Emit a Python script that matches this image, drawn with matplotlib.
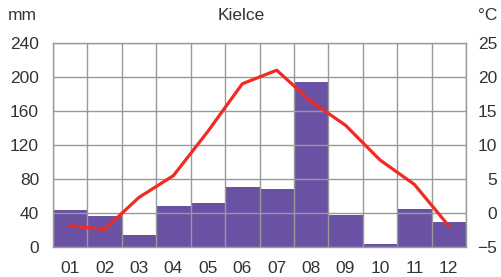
import matplotlib
matplotlib.use("Agg")
import matplotlib.pyplot as plt
import numpy as np

months = ["01", "02", "03", "04", "05", "06", "07", "08", "09", "10", "11", "12"]
precip_mm = [43, 37, 14, 48, 52, 71, 68, 194, 38, 3.5, 45, 30]
temp_c = [-1.9, -2.4, 2.3, 5.5, 12.0, 19.0, 21.0, 16.4, 12.9, 7.8, 4.2, -1.9]
left_ticks = [0, 40, 80, 120, 160, 200, 240]
right_ticks = [-5, 0, 5, 10, 15, 20, 25]
title = "Kielce"

plt.rcParams['font.family'] = ['Liberation Sans', 'DejaVu Sans']
text_color = "#333333"
grid_color = "#999999"

fig = plt.figure(figsize=(5.01, 2.77), dpi=100)
W, H = 501, 277
ax = fig.add_axes([53 / W, (H - 247) / H, (466 - 53) / W, (247 - 43) / H])

x = np.arange(len(months))
ax.bar(x, precip_mm, width=1.0, color="#6a51a3", edgecolor="none", zorder=1)
ax.set_xlim(-0.5, len(months) - 0.5)
ax.set_ylim(0, 240)
ax.set_yticks(left_ticks)
ax.set_xticks(x)
ax.set_xticklabels(months)
for b in np.arange(-0.5, len(months), 1.0):
    ax.axvline(b, color=grid_color, lw=1.0, zorder=2)
for t in left_ticks:
    ax.axhline(t, color=grid_color, lw=1.0, zorder=2)
for s in ax.spines.values():
    s.set_color(grid_color)
    s.set_linewidth(1.0)
ax.tick_params(axis='both', length=0, labelsize=12.5, colors=text_color)
ax.tick_params(axis='y', pad=10)
ax.tick_params(axis='x', pad=10)

ax2 = ax.twinx()
ax2.set_ylim(-5, 25)
ax2.set_yticks(right_ticks)
ax2.plot(x, temp_c, color="#ee2b24", lw=2.3, zorder=5, solid_joinstyle='round')
ax2.tick_params(axis='y', length=0, labelsize=12.5, colors=text_color, pad=22.5)
for lab in ax2.get_yticklabels():
    lab.set_horizontalalignment('right')
for s in ax2.spines.values():
    s.set_visible(False)

fig.text(8 / W, 1 - 16 / H, "mm", fontsize=12.5, color=text_color, ha='left', va='center')
fig.text(497 / W, 1 - 16 / H, "°C", fontsize=12.5, color=text_color, ha='right', va='center')
fig.text(241.5 / W, 1 - 16 / H, title, fontsize=12.5, color=text_color, ha='center', va='center')

fig.savefig("out.png", dpi=100)
